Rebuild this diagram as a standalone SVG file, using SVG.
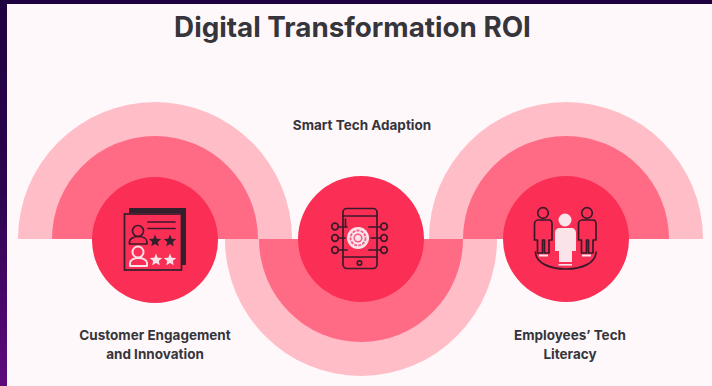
<svg xmlns="http://www.w3.org/2000/svg" width="712" height="386" viewBox="0 0 712 386">
<defs>
<linearGradient id="side" x1="0" y1="0" x2="0" y2="1"><stop offset="0" stop-color="#1f0040"/><stop offset="0.5" stop-color="#2c0550"/><stop offset="1" stop-color="#5f0a7c"/></linearGradient>
<polygon id="star" points="0,-6.5 1.7,-2.35 6.18,-2 2.76,0.9 3.82,5.26 0,2.9 -3.82,5.26 -2.76,0.9 -6.18,-2 -1.7,-2.35"/>
</defs>
<style>
.outer{fill:#ffbdc8}.mid{fill:#ff6b85}.disc{fill:#fb2f55}
.t{font-family:"Inter","Liberation Sans",sans-serif;font-weight:700;fill:#35353b;font-size:13.5px;text-anchor:middle}
.k{fill:none;stroke:#3a1a2a;stroke-width:1.7;stroke-linecap:round;stroke-linejoin:round}
.w{fill:none;stroke:#fbe3ea;stroke-width:1.9;stroke-linejoin:round}
.wf{fill:#fbe3ea}.kf{fill:#33202c}
</style>
<rect width="712" height="386" fill="#fff8fa"/>
<rect width="7" height="386" fill="url(#side)"/>
<rect width="712" height="4" fill="#1f0040"/>
<text x="352.500" y="37" style="font-family:'Inter','Liberation Sans',sans-serif;font-weight:700;font-size:27.800px;fill:#35353b;text-anchor:middle">Digital Transformation ROI</text>
<g id="connectors">
<path class="outer" d="M18 239A137 137 0 0 1 292 239Z"/>
<path class="outer" d="M429 239A137 137 0 0 1 703 239Z"/>
<path class="outer" d="M225 239A136 137 0 0 0 497 239Z"/>
<path class="mid" d="M52 239A103 103 0 0 1 258 239Z"/>
<path class="mid" d="M463 239A103 103 0 0 1 669 239Z"/>
<path class="mid" d="M259 239A102 103 0 0 0 463 239Z"/>
</g>
<g id="node-customer">
<circle class="disc" cx="155" cy="240" r="63"/>
<path class="kf" d="M129 208H186V265H181V213H129Z"/>
<rect x="124.500" y="214" width="57" height="56" fill="#fb2f55" stroke="#33202c" stroke-width="1.700"/>
<path class="k" d="M148 222H175M148 228.500H175"/>
<circle class="k" cx="138" cy="231" r="5.500"/><path class="k" d="M129.500 244V242C129.500 238.500 134 236.500 138 236.500C143 236.500 147 238.500 147 242V244Z"/>
<use href="#star" class="kf" x="155" y="241"/>
<use href="#star" class="kf" x="170" y="241"/>
<circle class="w" cx="138" cy="252" r="5.500"/><path class="w" d="M130 266V263C130 260 134 258 138 258C143 258 147 260 147 263V266Z"/>
<use href="#star" class="wf" x="156" y="260"/>
<use href="#star" class="wf" x="170" y="260"/>
<text class="t" x="155" y="340">Customer Engagement</text>
<text class="t" x="155" y="359">and Innovation</text>
</g>
<g id="node-smart">
<circle class="disc" cx="361" cy="239" r="63"/>
<rect class="k" x="343" y="208.500" width="34" height="60" rx="4"/>
<path class="k" d="M343 216H377M343 257H377M345.500 219V226"/>
<circle class="k" cx="359.500" cy="263" r="2.200"/>
<path class="k" d="M347 227H338.500M347 238H338.500M347 250H338.500M369 227H380.500M369 238H380.500M369 250H380.500"/>
<circle class="k" cx="335" cy="226.500" r="3.300"/><circle class="k" cx="335" cy="238" r="3.300"/><circle class="k" cx="335" cy="250" r="3.300"/>
<circle class="k" cx="384" cy="226.500" r="3.300"/><circle class="k" cx="384" cy="238" r="3.300"/><circle class="k" cx="384" cy="250" r="3.300"/>
<circle class="disc" cx="358" cy="238" r="12.500"/>
<circle class="wf" cx="358" cy="238" r="11"/>
<circle cx="358" cy="238" r="7.500" fill="none" stroke="#f45c85" stroke-width="1.800" stroke-dasharray="3 1.200"/>
<circle cx="358" cy="238" r="3.800" fill="none" stroke="#f45c85" stroke-width="1.500"/>
<text class="t" x="362" y="130">Smart Tech Adaption</text>
</g>
<g id="node-employees">
<circle class="disc" cx="566" cy="239" r="63"/>
<path class="k" d="M535.500 252C535.500 263 550 269 566 269C582 269 596 263 596 252"/>
<circle class="k" cx="543" cy="213" r="5.300"/>
<path class="k" d="M538 220H549C551 220 552 222 552 224V240H549V253H544.500V240H542.500V253H537.500V240H534.500V224C534.500 222 536 220 538 220Z" fill="#fb2f55"/>
<circle class="k" cx="587" cy="213" r="5.300"/>
<path class="k" d="M582 220H593C595 220 596 222 596 224V240H593V253H588.500V240H586.500V253H581.500V240H578.500V224C578.500 222 580 220 582 220Z"/>
<path class="w" d="M539 255.500H548M582 255.500H591"/>
<circle class="wf" cx="565" cy="220" r="6.500"/>
<path class="wf" d="M560 228H571C574 228 576 230 576 233V251H572V262H559V251H555V233C555 230 557 228 560 228Z"/>
<rect class="wf" x="558.500" y="264" width="13.500" height="1.600"/>
<text class="t" x="570" y="340">Employees’ Tech</text>
<text class="t" x="570" y="359">Literacy</text>
</g>
</svg>
